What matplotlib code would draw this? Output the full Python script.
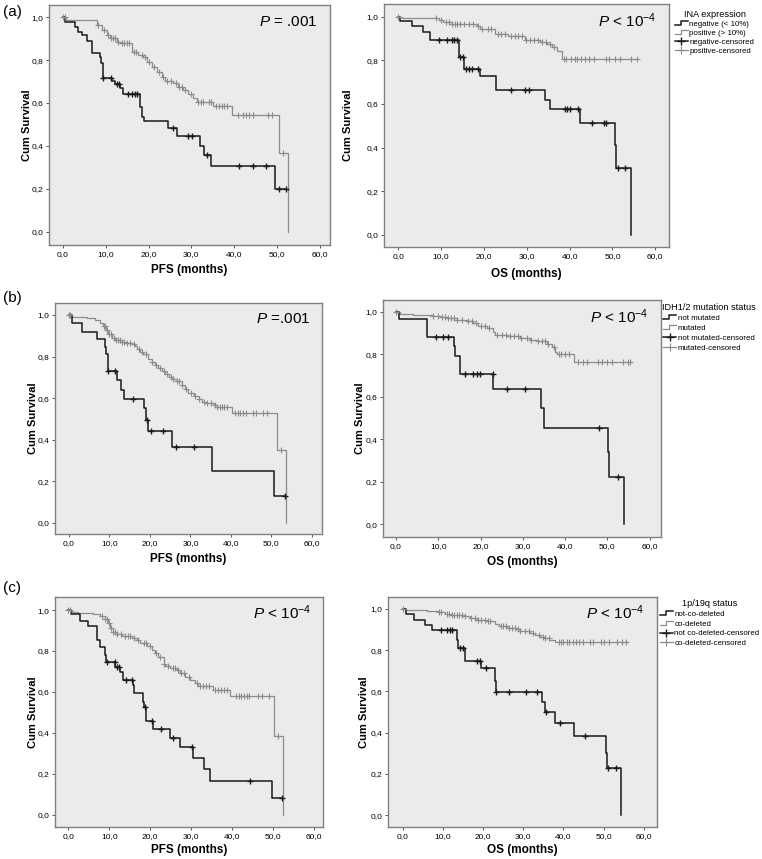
import numpy as np
import matplotlib
matplotlib.use('Agg')
import matplotlib.pyplot as plt
from matplotlib.lines import Line2D
from matplotlib.legend_handler import HandlerLine2D

plt.rcParams['font.family'] = ['Liberation Sans', 'DejaVu Sans']
plt.rcParams['mathtext.fontset'] = 'custom'
plt.rcParams['mathtext.rm'] = 'Liberation Sans'
plt.rcParams['mathtext.it'] = 'Liberation Sans:italic'

# ---------------- data ----------------
# (a) INA expression - PFS
a_pfs_neg_t = [0, 0.5, 2.9, 3.6, 4.4, 5.6, 6.9, 8.7, 8.9, 9.3, 11.4, 12.2, 13.3, 14.0, 18.0, 18.6, 18.9,
               24.6, 26.6, 31.9, 33.0, 34.5, 49.5]
a_pfs_neg_s = [1.0, 0.98, 0.956, 0.933, 0.917, 0.891, 0.832, 0.816, 0.785, 0.715, 0.703, 0.687, 0.669, 0.642,
               0.58, 0.536, 0.516, 0.482, 0.446, 0.40, 0.358, 0.306, 0.20]
a_pfs_neg_c = [9.3, 11.2, 12.7, 13.2, 15.3, 16.1, 16.9, 17.4, 25.8, 29.1, 30.2, 33.7, 41.0, 44.4, 47.3, 50.5, 52.1]
a_pfs_pos_t = [0, 0.7, 7.9, 9.1, 10.3, 11.0, 12.6, 13.6, 16.1, 17.6, 18.8, 19.6, 20.7, 21.9, 23.1, 23.8, 25.8,
               26.9, 28.1, 29.3, 30.3, 31.2, 35.1, 39.4, 50.5, 52.4]
a_pfs_pos_s = [1.0, 0.988, 0.964, 0.94, 0.917, 0.902, 0.886, 0.879, 0.84, 0.824, 0.815, 0.793, 0.77, 0.746,
               0.723, 0.703, 0.692, 0.676, 0.661, 0.642, 0.625, 0.607, 0.585, 0.545, 0.365, 0.0]
a_pfs_pos_c = [0.0, 0.5, 8.3, 9.6, 10.6, 11.3, 11.8, 12.3, 12.9, 13.8, 14.3, 14.9, 15.5, 16.6, 17.2, 18.4, 19.2,
               20.2, 21.2, 22.5, 23.4, 24.3, 25.2, 26.3, 27.2, 27.8, 28.5, 29.8, 31.6, 32.2, 32.8, 34.0, 34.6,
               35.8, 36.4, 37.1, 37.7, 38.3, 40.8, 42.1, 42.8, 43.5, 44.3, 47.9, 48.7, 51.3]

# (a) INA expression - OS
a_os_neg_t = [0, 0.5, 3.1, 5.8, 7.4, 14.1, 15.4, 19.1, 22.8, 34.3, 35.5, 42.5, 50.6, 50.8, 54.3]
a_os_neg_s = [1.0, 0.982, 0.957, 0.931, 0.893, 0.817, 0.76, 0.728, 0.664, 0.62, 0.576, 0.511, 0.41, 0.305, 0.0]
a_os_neg_c = [9.6, 11.3, 12.5, 13.0, 13.6, 14.4, 15.2, 15.8, 16.6, 17.1, 18.5, 26.3, 29.6, 30.6, 39.0, 39.5,
              40.2, 41.9, 45.3, 48.1, 48.4, 51.2, 53.0]
a_os_pos_t = [0, 0.8, 9.4, 10.5, 12.5, 18.3, 19.1, 22.6, 25.7, 29.6, 33.0, 34.7, 35.9, 37.0, 38.2]
a_os_pos_s = [1.0, 0.993, 0.985, 0.975, 0.965, 0.955, 0.945, 0.92, 0.91, 0.895, 0.885, 0.875, 0.86, 0.845, 0.805]
a_os_pos_c = [0.0, 8.8, 9.9, 11.2, 11.8, 12.6, 13.2, 13.8, 14.5, 15.3, 16.5, 17.4, 18.7, 19.6, 20.9, 21.7, 23.3,
              24.0, 24.8, 26.4, 27.2, 28.0, 28.8, 29.9, 30.8, 31.7, 32.5, 33.6, 34.5, 35.4, 36.4, 38.6, 39.2,
              40.4, 41.2, 41.8, 42.6, 43.5, 44.5, 45.8, 48.4, 49.3, 50.5, 51.7, 54.4, 55.7]

# (b) IDH1/2 mutation status - PFS
b_pfs_neg_t = [0, 0.7, 3.1, 6.8, 8.9, 9.2, 9.6, 11.8, 12.8, 13.6, 18.5, 18.9, 19.4, 25.4, 35.3, 50.7]
b_pfs_neg_s = [1.0, 0.96, 0.92, 0.883, 0.848, 0.81, 0.731, 0.688, 0.64, 0.595, 0.552, 0.496, 0.443, 0.365,
               0.248, 0.128]
b_pfs_neg_c = [9.6, 11.4, 15.7, 19.2, 20.3, 23.1, 26.4, 30.9, 53.3]
b_pfs_pos_t = [0, 0.7, 4.4, 6.4, 7.7, 8.5, 9.2, 9.7, 10.6, 11.4, 12.6, 13.9, 15.5, 16.3, 16.7, 17.6, 18.4, 19.6,
               20.4, 21.3, 22.1, 22.9, 23.7, 24.6, 25.8, 26.6, 27.9, 28.7, 29.5, 30.8, 32.0, 32.8, 34.0, 35.7,
               36.5, 40.2, 51.4, 53.6]
b_pfs_pos_s = [1.0, 0.99, 0.985, 0.975, 0.96, 0.945, 0.93, 0.91, 0.89, 0.88, 0.87, 0.865, 0.86, 0.85, 0.835,
               0.82, 0.81, 0.79, 0.775, 0.76, 0.745, 0.73, 0.715, 0.70, 0.69, 0.68, 0.665, 0.645, 0.625, 0.61,
               0.595, 0.58, 0.575, 0.565, 0.555, 0.53, 0.35, 0.0]
b_pfs_pos_c = [0.0, 0.3, 8.6, 9.0, 9.5, 10.0, 10.4, 11.0, 11.6, 12.1, 12.5, 13.1, 13.6, 14.3, 15.0, 16.0, 17.2,
               18.0, 19.1, 20.5, 21.5, 22.5, 23.4, 24.3, 25.1, 25.8, 26.6, 27.2, 28.0, 29.0, 30.1, 31.2, 32.2,
               33.4, 34.2, 35.1, 36.0, 36.6, 37.2, 37.8, 38.4, 39.1, 41.0, 41.7, 42.3, 43.0, 43.7, 45.4, 46.2,
               48.0, 49.0, 52.4]

# (b) IDH1/2 mutation status - OS
b_os_neg_t = [0, 0.8, 7.3, 13.7, 13.9, 15.2, 23.0, 34.3, 35.1, 50.1, 50.3, 54.0]
b_os_neg_s = [1.0, 0.964, 0.882, 0.84, 0.793, 0.705, 0.635, 0.545, 0.451, 0.34, 0.224, 0.0]
b_os_neg_c = [9.5, 11.2, 12.2, 16.3, 18.3, 19.1, 19.9, 22.9, 26.2, 30.5, 48.1, 52.5]
b_os_pos_t = [0, 0.9, 4.1, 8.8, 10.4, 12.0, 14.4, 16.7, 18.3, 19.5, 21.5, 22.9, 23.4, 26.2, 29.4, 31.7, 33.3,
              35.7, 36.9, 37.6, 38.0, 42.0]
b_os_pos_s = [1.0, 0.99, 0.985, 0.98, 0.975, 0.968, 0.962, 0.955, 0.945, 0.935, 0.925, 0.905, 0.89, 0.885,
              0.875, 0.865, 0.86, 0.85, 0.835, 0.81, 0.80, 0.765]
b_os_pos_c = [0.0, 8.8, 10.0, 10.8, 11.5, 12.3, 13.0, 13.8, 14.5, 15.5, 17.0, 18.0, 19.0, 20.2, 21.0, 22.0,
              24.0, 25.0, 26.0, 27.0, 28.0, 28.8, 29.5, 31.0, 32.0, 33.5, 34.5, 35.3, 36.0, 37.5, 38.5, 39.0,
              40.0, 41.0, 43.0, 44.2, 45.2, 47.9, 48.7, 49.9, 51.0, 53.8, 55.0, 55.3]

# (c) 1p/19q status - PFS
c_pfs_neg_t = [0, 0.6, 2.9, 4.7, 6.9, 7.8, 9.0, 9.2, 11.4, 12.7, 13.3, 15.9, 16.0, 18.2, 18.5, 18.9, 20.8,
               24.9, 27.3, 30.6, 33.1, 34.7, 49.8]
c_pfs_neg_s = [1.0, 0.98, 0.948, 0.922, 0.853, 0.82, 0.78, 0.747, 0.722, 0.698, 0.66, 0.633, 0.592, 0.551,
               0.527, 0.456, 0.416, 0.375, 0.328, 0.277, 0.222, 0.165, 0.082]
c_pfs_neg_c = [9.4, 11.3, 12.0, 12.4, 14.1, 15.5, 18.8, 20.4, 22.7, 25.7, 30.2, 44.5, 52.2]
c_pfs_pos_t = [0, 0.8, 2.4, 6.1, 7.8, 9.0, 9.8, 10.2, 11.0, 11.8, 13.1, 15.5, 16.7, 17.6, 19.2, 20.4, 21.2,
               22.0, 23.3, 23.7, 24.9, 26.5, 27.3, 28.6, 29.8, 31.0, 31.8, 35.5, 39.6, 50.4, 52.5]
c_pfs_pos_s = [1.0, 0.99, 0.985, 0.98, 0.97, 0.955, 0.935, 0.91, 0.895, 0.885, 0.875, 0.865, 0.855, 0.84,
               0.825, 0.805, 0.79, 0.77, 0.735, 0.725, 0.715, 0.705, 0.69, 0.675, 0.66, 0.645, 0.63, 0.61,
               0.58, 0.385, 0.0]
c_pfs_pos_c = [0.0, 0.4, 8.3, 9.0, 9.5, 10.0, 10.5, 11.0, 11.5, 12.0, 13.0, 13.8, 14.5, 15.0, 16.0, 17.0,
               18.5, 19.0, 20.0, 21.5, 22.5, 23.5, 24.5, 25.5, 26.0, 26.8, 27.5, 28.2, 29.5, 31.5, 32.2, 33.0,
               33.8, 34.5, 35.8, 36.5, 37.3, 38.0, 38.8, 41.0, 41.7, 42.3, 43.0, 43.7, 44.3, 46.5, 47.3, 49.0,
               51.3]

# (c) 1p/19q status - OS
c_os_neg_t = [0, 0.8, 2.9, 5.6, 7.2, 13.6, 13.8, 15.4, 19.5, 22.9, 23.1, 34.7, 35.5, 38.0, 42.6, 50.7, 50.9,
              54.4]
c_os_neg_s = [1.0, 0.974, 0.947, 0.922, 0.898, 0.85, 0.809, 0.749, 0.712, 0.65, 0.599, 0.55, 0.502, 0.445,
              0.383, 0.30, 0.23, 0.0]
c_os_neg_c = [9.6, 11.0, 11.8, 12.2, 14.3, 15.0, 18.5, 19.3, 20.8, 23.2, 26.4, 30.8, 33.4, 35.7, 39.2, 45.3,
              51.0, 53.0]
c_os_pos_t = [0, 0.8, 6.0, 8.9, 10.6, 12.2, 15.1, 16.8, 18.5, 20.9, 23.0, 23.9, 25.9, 28.4, 29.3, 31.8, 33.0,
              34.2, 35.5, 36.5, 38.0]
c_os_pos_s = [1.0, 0.995, 0.99, 0.985, 0.975, 0.97, 0.965, 0.955, 0.948, 0.94, 0.925, 0.915, 0.91, 0.905,
              0.895, 0.885, 0.875, 0.865, 0.86, 0.85, 0.84]
c_os_pos_c = [0.0, 9.0, 9.6, 11.0, 11.6, 12.2, 12.8, 13.4, 14.0, 14.7, 15.5, 17.0, 18.0, 18.7, 19.5, 20.5,
              21.2, 21.8, 24.5, 25.0, 25.7, 26.5, 27.2, 28.0, 28.7, 29.3, 30.5, 31.5, 32.5, 34.0, 34.8, 35.5,
              36.3, 38.8, 39.3, 40.0, 40.8, 41.5, 42.3, 43.2, 44.0, 44.8, 46.5, 47.3, 49.3, 50.0, 51.3, 53.3,
              54.5, 55.7]

xticks = [0, 10, 20, 30, 40, 50, 60]
yticks = [0.0, 0.2, 0.4, 0.6, 0.8, 1.0]

legend_titles = ['INA expression', 'IDH1/2 mutation status', '1p/19q status']
legend_labels = [
    ['negative (< 10%)', 'positive (> 10%)', 'negative-censored', 'positive-censored'],
    ['not mutated', 'mutated', 'not mutated-censored', 'mutated-censored'],
    ['not-co-deleted', 'co-deleted', 'not co-deleted-censored', 'co-deleted-censored'],
]
p_texts = [r'$\it{P}$ = .001', r'$\it{P}$ < 10$^{-4}$',
           r'$\it{P}$ =.001', r'$\it{P}$ < 10$^{-4}$',
           r'$\it{P}$ < 10$^{-4}$', r'$\it{P}$ < 10$^{-4}$']

# ---------------- layout ----------------
W, H = 762, 859
BLACK = '#1a1a1a'
GRAY = '#8c8c8c'
BG = '#ebebeb'
FRAME = '#808080'

# pixel frames (left, top, right, bottom), x limits, y limits, ylabel x, xlabel y
panels = [
    ((49, 5, 330, 245), (-3.19, 62.3), (-0.062, 1.057), 27, 270),
    ((384, 4, 669, 247), (-3.34, 63.2), (-0.055, 1.058), 348, 274),
    ((55, 303, 322, 534), (-3.46, 62.5), (-0.055, 1.058), 33, 559),
    ((383, 300, 661, 537), (-3.08, 62.7), (-0.06, 1.055), 360, 562),
    ((55, 597, 323, 827), (-3.26, 62.3), (-0.061, 1.064), 33, 850),
    ((388, 597, 657, 827), (-3.67, 63.3), (-0.057, 1.058), 364, 850),
]
# legend anchor (left, top) in pixels and row spacing
legend_pos = [((675, 10), 0.18), ((662, 303), 0.3), ((660, 599), 0.28)]

curves = [
    (a_pfs_neg_t, a_pfs_neg_s, a_pfs_neg_c, a_pfs_pos_t, a_pfs_pos_s, a_pfs_pos_c, 'PFS (months)'),
    (a_os_neg_t, a_os_neg_s, a_os_neg_c, a_os_pos_t, a_os_pos_s, a_os_pos_c, 'OS (months)'),
    (b_pfs_neg_t, b_pfs_neg_s, b_pfs_neg_c, b_pfs_pos_t, b_pfs_pos_s, b_pfs_pos_c, 'PFS (months)'),
    (b_os_neg_t, b_os_neg_s, b_os_neg_c, b_os_pos_t, b_os_pos_s, b_os_pos_c, 'OS (months)'),
    (c_pfs_neg_t, c_pfs_neg_s, c_pfs_neg_c, c_pfs_pos_t, c_pfs_pos_s, c_pfs_pos_c, 'PFS (months)'),
    (c_os_neg_t, c_os_neg_s, c_os_neg_c, c_os_pos_t, c_os_pos_s, c_os_pos_c, 'OS (months)'),
]


def km(ax, t, s, c, color, lw, mew):
    t = list(t)
    s = list(s)
    end = max(t[-1], max(c))
    ax.step(t + [end], s + [s[-1]], where='post', color=color, lw=lw, zorder=3)
    idx = np.searchsorted(t, c, side='right') - 1
    cy = np.array(s)[idx]
    ax.plot(c, cy, ls='none', marker='+', ms=5, mew=mew, color=color, zorder=4)


class StepHandler(HandlerLine2D):
    def create_artists(self, legend, orig_handle, xdescent, ydescent, width, height, fontsize, trans):
        x0, x1 = -xdescent, -xdescent + width
        y0 = -ydescent + height * 0.15
        y1 = -ydescent + height * 0.85
        xm = x0 + width * 0.45
        line = Line2D([x0, xm, xm, x1], [y0, y0, y1, y1], color=orig_handle.get_color(),
                      lw=orig_handle.get_linewidth(), transform=trans)
        return [line]


fig = plt.figure(figsize=(W / 100, H / 100), dpi=100)

fmt = lambda v, pos: ('%.1f' % v).replace('.', ',')

for i, ((l, t_, r, b), xl, yl, ylx, xly) in enumerate(panels):
    ax = fig.add_axes([l / W, 1 - b / H, (r - l) / W, (b - t_) / H])
    ax.set_facecolor(BG)
    nt, ns, nc, pt, ps, pc, xlab = curves[i]
    km(ax, pt, ps, pc, GRAY, 0.9, 0.8)
    km(ax, nt, ns, nc, BLACK, 1.1, 1.0)
    ax.set_xlim(*xl)
    ax.set_ylim(*yl)
    ax.set_xticks(xticks)
    ax.set_yticks(yticks)
    ax.xaxis.set_major_formatter(fmt)
    ax.yaxis.set_major_formatter(fmt)
    ax.tick_params(direction='out', length=2.5, width=0.7, color='#555555', labelsize=6, pad=1.5)
    for sp in ax.spines.values():
        sp.set_color(FRAME)
        sp.set_linewidth(1.0)
    ax.set_xlabel(xlab, fontsize=8.5, fontweight='bold', va='center')
    ax.set_ylabel('Cum Survival', fontsize=8, fontweight='bold', va='center')
    ax.xaxis.set_label_coords(0.5, (b - xly) / (b - t_))
    ax.yaxis.set_label_coords((ylx - l) / (r - l), 0.5)
    ax.text(0.955, 0.93, p_texts[i], transform=ax.transAxes, ha='right', va='center', fontsize=11)

    if i % 2 == 1:
        k = i // 2
        (lx, ly), sp_ = legend_pos[k]
        handles = [Line2D([], [], color=BLACK, lw=1.1), Line2D([], [], color=GRAY, lw=0.9),
                   Line2D([], [], color=BLACK, lw=1.1, marker='+', ms=6, mew=1.0),
                   Line2D([], [], color=GRAY, lw=0.9, marker='+', ms=6, mew=0.8)]
        fig.legend(handles, legend_labels[k], title=legend_titles[k],
                   loc='upper left', bbox_to_anchor=(lx / W, 1 - ly / H),
                   frameon=False, fontsize=5.7, title_fontsize=6.6, handlelength=1.6,
                   handletextpad=0.2, labelspacing=sp_, borderpad=0, borderaxespad=0,
                   handler_map={handles[0]: StepHandler(), handles[1]: StepHandler()})

for lab, y in [('(a)', 12), ('(b)', 298), ('(c)', 588)]:
    fig.text(3 / W, 1 - y / H, lab, fontsize=11, va='center', ha='left')

fig.savefig('out.png', dpi=100)
